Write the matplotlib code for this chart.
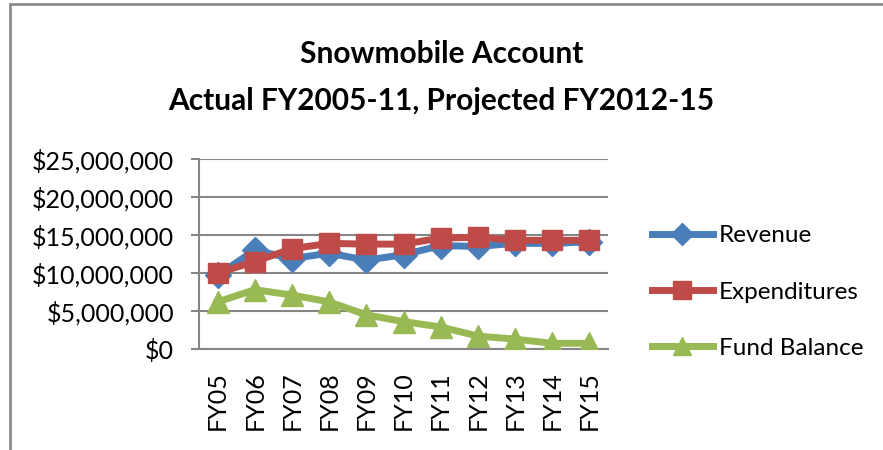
import matplotlib.pyplot as plt
import numpy as np
from matplotlib.ticker import FuncFormatter
from matplotlib.patches import Rectangle

plt.rcParams['font.family'] = ['Lato', 'DejaVu Sans']

years = ['FY05', 'FY06', 'FY07', 'FY08', 'FY09', 'FY10', 'FY11', 'FY12', 'FY13', 'FY14', 'FY15']
revenue = [9.7, 13.0, 11.9, 12.6, 11.7, 12.4, 13.6, 13.5, 13.9, 13.9, 14.1]
expenditures = [10.0, 11.5, 13.2, 13.9, 13.8, 13.8, 14.6, 14.7, 14.3, 14.3, 14.3]
fund_balance = [6.2, 7.8, 7.1, 6.2, 4.5, 3.6, 2.9, 1.7, 1.3, 0.75, 0.75]

revenue = np.array(revenue) * 1e6
expenditures = np.array(expenditures) * 1e6
fund_balance = np.array(fund_balance) * 1e6

fig = plt.figure(figsize=(8.83, 4.5), dpi=100)
# outer chart frame (runs off the right/bottom edge)
fig.patches.append(Rectangle((10 / 883, -0.1), 1.2, 1.09, transform=fig.transFigure,
                             fill=False, edgecolor='#8c8c8c', linewidth=2, zorder=0))

ax = fig.add_axes([199 / 883, 101 / 450, 409 / 883, 190 / 450])
x = np.arange(len(years))

gray = '#868686'
ax.plot(x, revenue, color='#4A7EBB', lw=5, marker='D', ms=13, label='Revenue', zorder=3)
ax.plot(x, expenditures, color='#BE4B48', lw=5, marker='s', ms=15, label='Expenditures', zorder=4)
ax.plot(x, fund_balance, color='#98B954', lw=5, marker='^', ms=16, label='Fund Balance', zorder=5)

ax.set_xlim(-0.5, 10.5)
ax.set_ylim(0, 25e6)
ax.set_yticks(np.arange(0, 25e6 + 1, 5e6))
ax.yaxis.set_major_formatter(FuncFormatter(lambda v, p: '${:,.0f}'.format(v)))
ax.set_xticks(x)
ax.set_xticklabels(years, rotation=90)

ax.grid(axis='y', color=gray, lw=1.5)
ax.set_axisbelow(True)
for s in ['top', 'right']:
    ax.spines[s].set_visible(False)
for s in ['left', 'bottom']:
    ax.spines[s].set_color(gray)
    ax.spines[s].set_linewidth(1.5)
ax.tick_params(axis='y', length=6, color=gray, width=1.5, labelsize=18, pad=12)
ax.tick_params(axis='x', length=0, labelsize=18, pad=16)

fig.text(0.5, 0.88, 'Snowmobile Account', ha='center', va='center', fontsize=21.5, fontweight='bold')
fig.text(0.5, 0.775, 'Actual FY2005-11, Projected FY2012-15', ha='center', va='center',
         fontsize=21.5, fontweight='bold')

ax.legend(loc='center left', bbox_to_anchor=((630 - 199) / 409, 0.30), frameon=False,
          fontsize=17.5, handlelength=2.5, labelspacing=1.45, handletextpad=0.25, markerscale=0.85)

fig.savefig('out.png', dpi=100)
